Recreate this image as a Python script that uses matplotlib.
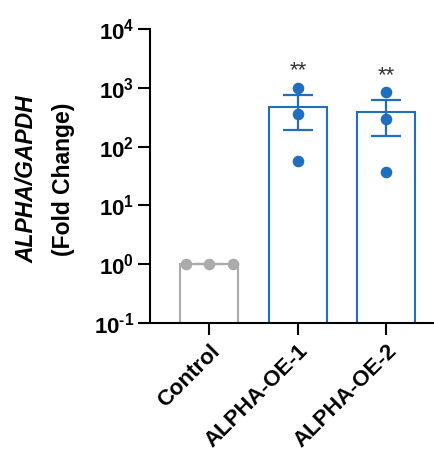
import numpy as np
import matplotlib.pyplot as plt

plt.rcParams['font.family'] = ['Liberation Sans', 'DejaVu Sans']
plt.rcParams['mathtext.fontset'] = 'custom'
plt.rcParams['mathtext.rm'] = 'Liberation Sans:bold'
plt.rcParams['mathtext.bf'] = 'Liberation Sans:bold'

groups = ["Control", "ALPHA-OE-1", "ALPHA-OE-2"]
control_vals = [1.0, 1.0, 1.0]
oe1_vals = [1000, 359, 56]
oe2_vals = [835, 295, 37]
stars = ["", "**", "**"]
ytick_vals = [0.1, 1, 10, 100, 1000, 10000]
ytick_labels = [r"$\mathbf{10^{\text{-}1}}$", r"$\mathbf{10^{0}}$", r"$\mathbf{10^{1}}$",
                r"$\mathbf{10^{2}}$", r"$\mathbf{10^{3}}$", r"$\mathbf{10^{4}}$"]

colors = ["#ababab", "#1f6fbe", "#1f6fbe"]
data = [control_vals, oe1_vals, oe2_vals]

fig = plt.figure(figsize=(4.35, 4.57), dpi=100)
ax = fig.add_axes([0.345, 0.293, 0.655, 0.6435])
ax.set_yscale('log')

x = np.arange(len(groups))
for i, vals in enumerate(data):
    vals = np.array(vals, dtype=float)
    m = vals.mean()
    sem = vals.std(ddof=1) / np.sqrt(len(vals))
    ax.bar(x[i], m, width=0.655, color='white', edgecolor=colors[i], linewidth=1.5, zorder=2)
    ax.errorbar(x[i], m, yerr=sem, color=colors[i], capsize=11, elinewidth=1.6,
                capthick=1.6, fmt='none', zorder=3)
    if np.allclose(vals, vals[0]):
        xs = x[i] + np.array([-0.265, 0, 0.265])
    else:
        xs = np.full(len(vals), x[i])
    ax.scatter(xs, vals, s=70, color=colors[i], zorder=4, linewidths=0)
    if stars[i]:
        ax.annotate(stars[i], (x[i], vals.max()), xytext=(0, 12), textcoords='offset points',
                    ha='center', va='center', fontsize=16, color='#333333')

ax.set_ylim(0.1, 1e4)
ax.set_xlim(-0.67, 2.55)
ax.set_yticks(ytick_vals)
ax.set_yticklabels(ytick_labels, fontsize=16)
ax.yaxis.set_minor_locator(plt.NullLocator())
ax.set_xticks(x)
ax.set_xticklabels(groups, rotation=45, ha='right', rotation_mode='anchor',
                   fontsize=16, fontweight='bold')

for s in ['top', 'right']:
    ax.spines[s].set_visible(False)
for s in ['left', 'bottom']:
    ax.spines[s].set_linewidth(1.5)
ax.tick_params(axis='both', width=1.5, length=8.5, direction='out')
ax.tick_params(axis='y', pad=3)
ax.tick_params(axis='x', pad=4)

fig.text(0.062, 0.607, "ALPHA/GAPDH", rotation=90, ha='center', va='center',
         fontsize=16.5, fontweight='bold', fontstyle='italic')
fig.text(0.147, 0.607, "(Fold Change)", rotation=90, ha='center', va='center',
         fontsize=16.5, fontweight='bold')

fig.savefig("out.png", dpi=100)
